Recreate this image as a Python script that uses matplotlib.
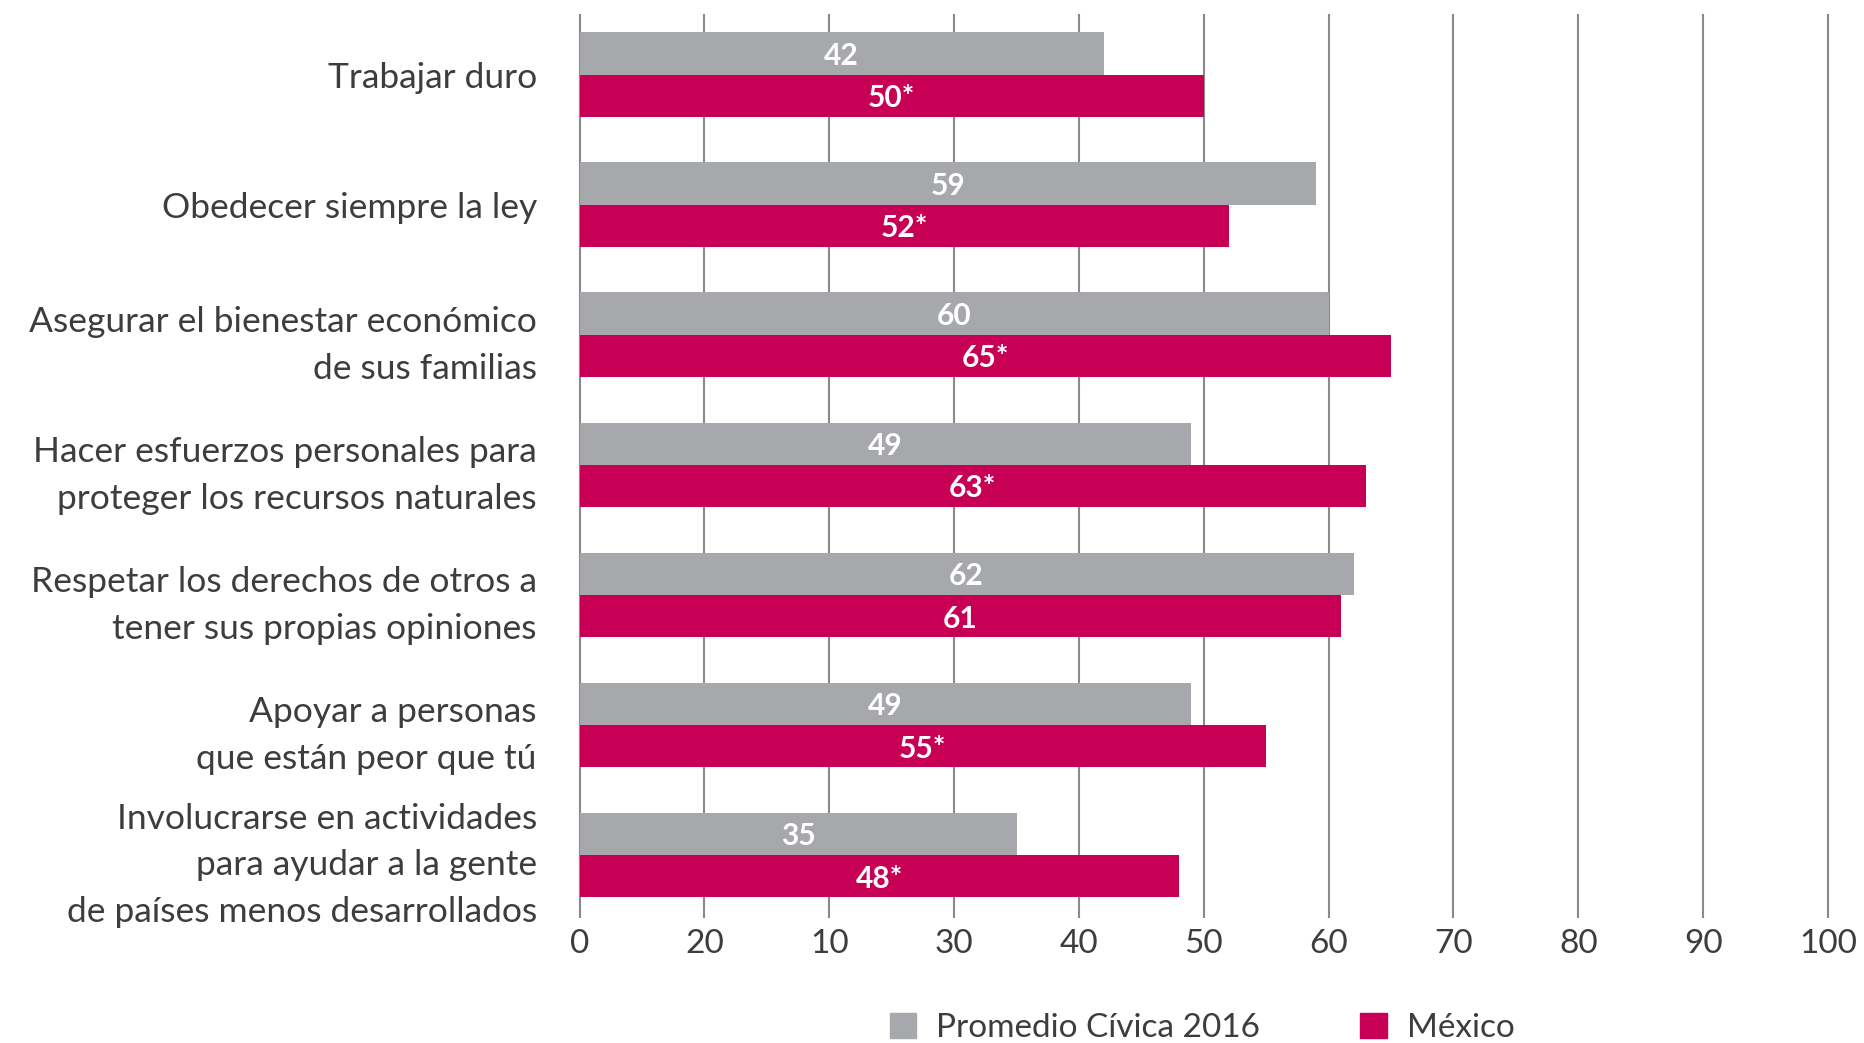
import numpy as np
import matplotlib
matplotlib.use("Agg")
from matplotlib import pyplot as plt
from matplotlib.patches import Patch

# datos
categorias = [
    "Trabajar duro",
    "Obedecer siempre la ley",
    "Asegurar el bienestar económico\nde sus familias",
    "Hacer esfuerzos personales para\nproteger los recursos naturales",
    "Respetar los derechos de otros a\ntener sus propias opiniones",
    "Apoyar a personas\nque están peor que tú",
    "Involucrarse en actividades\npara ayudar a la gente\nde países menos desarrollados",
]
promedio = [42, 59, 60, 49, 62, 49, 35]
mexico = [50, 52, 65, 63, 61, 55, 48]
etiquetas_mexico = ["50*", "52*", "65*", "63*", "61", "55*", "48*"]
ticks = [0, 10, 20, 30, 40, 50, 60, 70, 80, 90, 100]
etiquetas_ticks = ["0", "20", "10", "30", "40", "50", "60", "70", "80", "90", "100"]
series = ["Promedio Cívica 2016", "México"]

gris = "#A7A8AB"
rojo = "#C70056"
texto = "#3d3d3d"

plt.rcParams['font.family'] = ['Lato', 'DejaVu Sans']

fig = plt.figure(figsize=(18.64, 10.43), dpi=100)
ax = fig.add_axes([0.3096, 0.1198, 0.6724, 0.8668])

y = np.arange(len(categorias))
alto = 0.325
ax.barh(y - alto / 2, promedio, height=alto, color=gris, zorder=2)
ax.barh(y + alto / 2, mexico, height=alto, color=rojo, zorder=2)

for i in range(len(categorias)):
    ax.text(promedio[i] / 2, y[i] - alto / 2, str(promedio[i]), ha='center', va='center_baseline',
            color='white', fontsize=21.5, fontweight='bold', zorder=3)
    ax.text(mexico[i] / 2, y[i] + alto / 2, etiquetas_mexico[i], ha='center', va='center_baseline',
            color='white', fontsize=21.5, fontweight='bold', zorder=3)

# rejilla vertical
for t in ticks:
    ax.axvline(t, color='#8a8a8a', linewidth=1.5, zorder=1)

ax.set_xlim(-0.2, 100.2)
ax.set_ylim(6.484, -0.466)
ax.set_xticks(ticks)
ax.set_xticklabels(etiquetas_ticks, fontsize=24, color=texto)
ax.set_yticks(y)
ax.set_yticklabels(categorias, fontsize=25.5, color=texto, linespacing=1.57)
ax.tick_params(axis='both', length=0)
ax.tick_params(axis='y', pad=29)
ax.tick_params(axis='x', pad=8)
for s in ax.spines.values():
    s.set_visible(False)

handles = [Patch(color=gris), Patch(color=rojo)]
fig.legend(handles, series, loc='center', bbox_to_anchor=(0.645, 0.0145), ncol=2,
           frameon=False, fontsize=24, labelcolor=texto, handlelength=0.8, handleheight=0.8,
           columnspacing=3.0, handletextpad=0.6)

fig.savefig("out.png", dpi=100)
